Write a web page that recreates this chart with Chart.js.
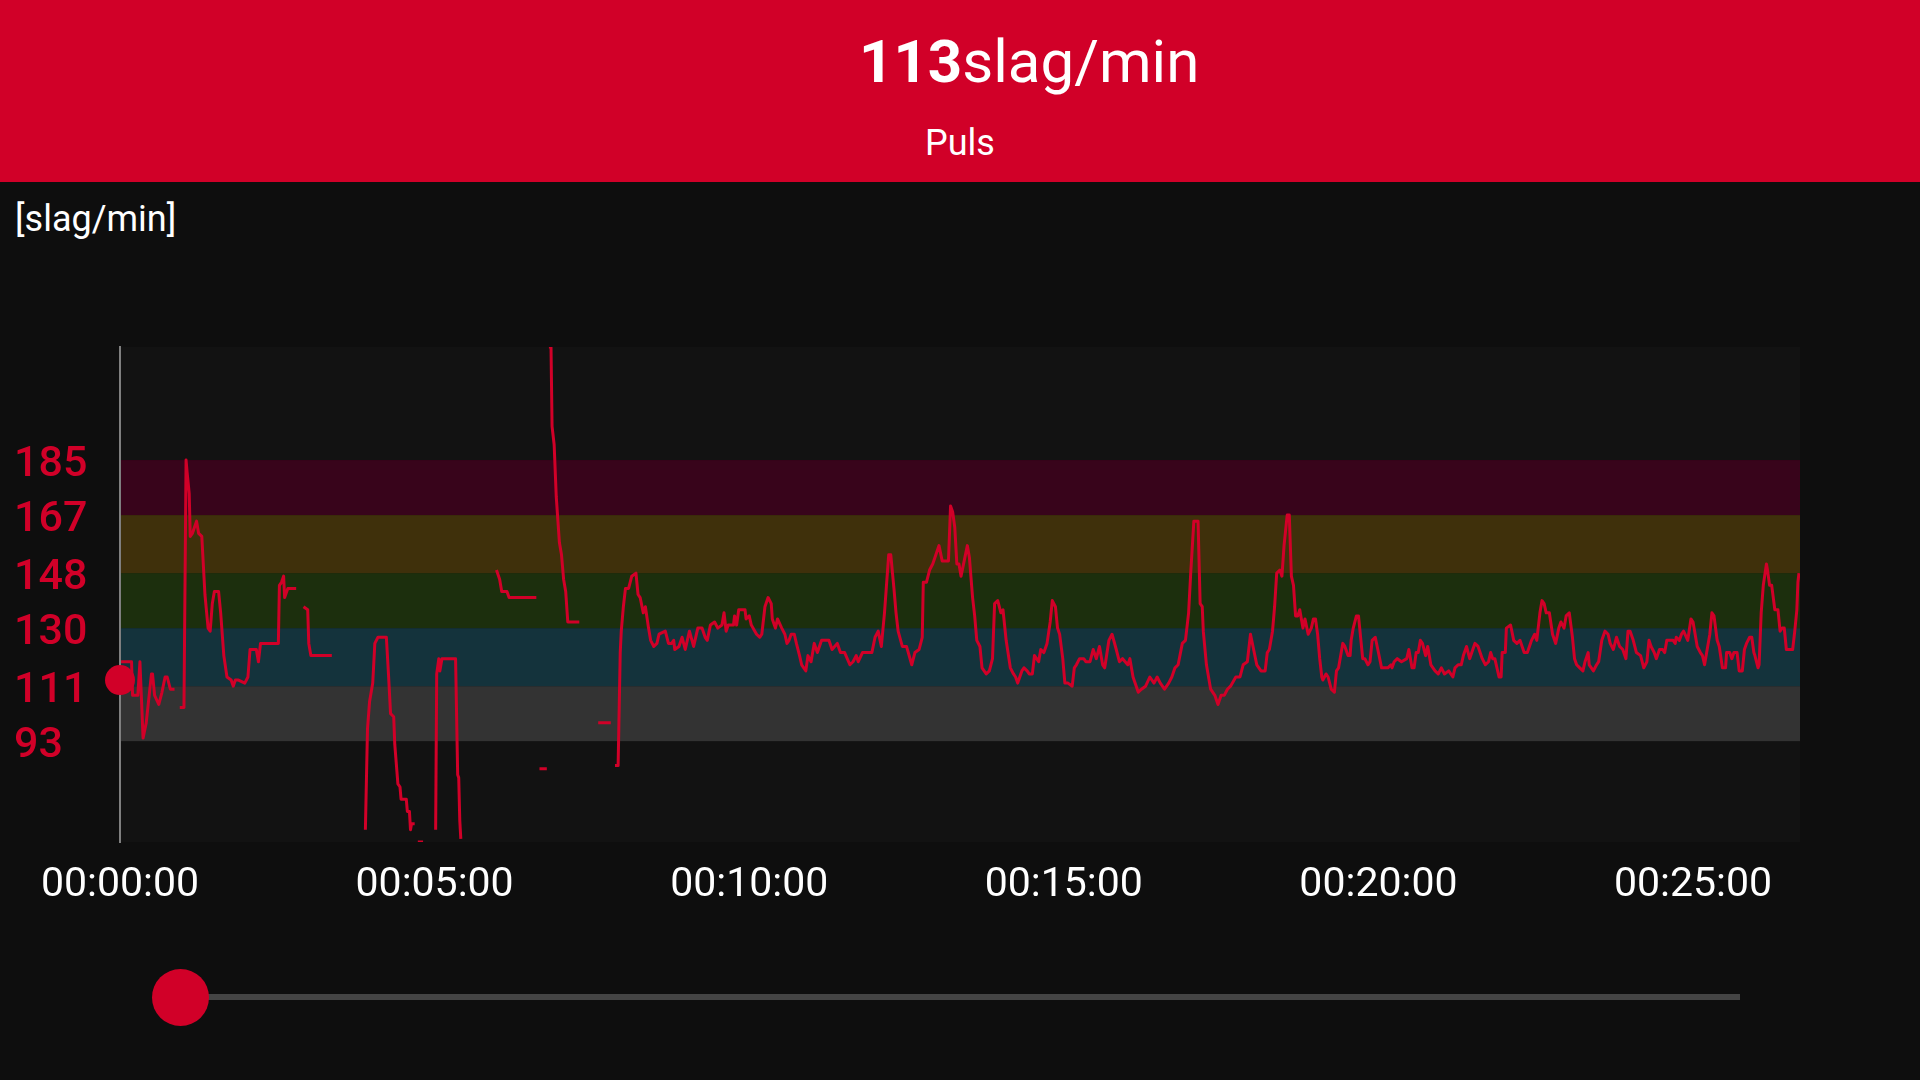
<!DOCTYPE html>
<html>
<head>
<meta charset="utf-8">
<script src="https://cdn.jsdelivr.net/npm/chart.js@4.4.0/dist/chart.umd.min.js"></script>
<style>
  html, body { margin: 0; padding: 0; width: 1920px; height: 1080px; overflow: hidden; background: #0e0e0e; font-family: Roboto, 'Noto Sans', sans-serif; }
  #header { position: absolute; left: 0; top: 0; width: 1920px; height: 182px; background: #d10028; color: #fff; }
  #title { position: absolute; left: 859px; top: 32px; font-size: 60px; line-height: 60px; white-space: nowrap; }
  #title b { font-weight: 700; }
  #sub { position: absolute; left: 0; top: 125px; width: 1920px; text-align: center; font-size: 36px; line-height: 36px; }
  #unit { position: absolute; left: 15px; top: 201px; font-size: 36px; line-height: 36px; font-weight: 400; color: #fff; }
  #wrap { position: absolute; left: 0; top: 340px; width: 1920px; height: 582px; }
  #track { position: absolute; left: 180px; top: 994px; width: 1560px; height: 6px; background: #444; }
  #thumb { position: absolute; left: 152px; top: 969px; width: 57px; height: 57px; border-radius: 50%; background: #d10028; }
</style>
</head>
<body>
<div id="header">
  <div id="title"><b>113</b>slag/min</div>
  <div id="sub">Puls</div>
</div>
<div id="unit">[slag/min]</div>
<div id="wrap"><canvas id="hr"></canvas></div>
<div id="track"></div>
<div id="thumb"></div>
<script>
const RED = '#d10028';

// heart rate zones (bpm) and their band colours, bottom to top
const zoneEdges = [93, 111, 130, 148, 167, 185];
const zoneColors = ['#333333', '#14333c', '#1c2f0d', '#3f300b', '#38041b'];

const xTickSeconds = [0, 300, 600, 900, 1200, 1500];
const xTickLabels = ['00:00:00', '00:05:00', '00:10:00', '00:15:00', '00:20:00', '00:25:00'];

// slider position: [seconds, bpm]
const currentSample = [0, 113];

// [seconds, bpm], null = no signal
const hrSamples = [
  [1,119],[11,119],[12,108],[17,108],[19,119],[22,94],[25,99],[30,115],[31,115],[33,108],[37,105],[40,109],[43,114],[45,114],[48,110],[52,110],
  [55,null],
  [57,104],[61,104],[63,185],[64,181],[66,174],[67,160],[69,161],[73,165],[75,161],[78,160],[81,141],[84,130],[86,129],[88,138],[90,142],[94,142],[96,135],[99,121],[102,114],[106,113],[108,111],[110,113],[113,113],[119,112],[122,114],[124,123],[130,123],[132,119],[134,125],[137,125],[151,125],[152,144],[154,145],[156,147],[157,140],[160,143],[168,143],
  [171,null],
  [175,137],[179,136],[180,125],[182,121],[202,121],
  [218,null],
  [234,64],[236,97],[238,106],[241,112],[243,125],[246,127],[254,127],[256,115],[258,102],[261,101],[262,92],[265,79],[267,78],[268,74],[273,74],[274,70],[276,70],[277,64],[278,66],[281,66],
  [282,null],
  [284,60],[289,60],
  [295,null],
  [301,64],[302,115],[304,120],[305,116],[307,120],[320,120],[322,82],[323,81],[324,67],[325,61],
  [340,null],
  [359,149],[362,146],[364,142],[369,142],[371,140],[397,140],
  [399,null],
  [400,84],[407,84],
  [408,null],
  [409,222],[411,222],[412,196],[414,190],[416,173],[419,158],[421,154],[423,146],[425,142],[427,132],[438,132],
  [447,null],
  [456,99],[468,99],
  [470,null],
  [472,85],[475,85],[477,122],[478,129],[480,137],[482,143],[485,143],[488,147],[492,148],[494,141],[496,140],[499,135],[501,137],[504,130],[506,126],[509,124],[512,125],[514,128],[520,129],[523,125],[526,125],[528,126],[529,123],[533,124],[536,127],[539,123],
  [543,129],[547,124],[551,130],[555,130],[558,127],[560,126],[563,131],[567,132],[570,130],[574,131],[576,135],[578,129],[580,131],[585,131],[586,134],[588,131],[590,136],[596,136],[597,133],[600,134],[602,131],[607,128],[610,127],[612,128],[615,137],[618,140],[621,138],[622,133],[625,130],[627,133],[631,130],[634,128],[636,125],[638,126],[640,128],[643,128],[645,125],[648,121],[650,118],[654,116],[656,121],[659,119],[662,125],[665,122],[669,126],[672,126],[676,126],[679,123],[684,125],[687,122],[691,122],[696,118],[699,119],[702,121],[704,119],[708,122],[712,122],[717,122],[720,127],[723,129],[726,124],[729,135],[733,154],[735,154],[738,143],[740,135],[742,129],[746,124],[750,124],[755,118],[758,122],[762,123],[765,127],[766,145],[769,145],[772,149],[775,151],[778,154],[781,157],[784,152],[790,152],[792,170],[794,168],[796,163],[798,151],[800,151],[802,147],[805,152],[808,157],
  [810,153],[813,140],[815,134],[817,126],[820,124],[822,117],[826,115],[829,116],[832,120],[834,138],[837,139],[840,135],[842,136],[845,126],[849,117],[852,115],[854,114],[856,112],[860,116],[862,117],[865,116],[867,115],[870,115],[872,121],[876,119],[878,123],[881,122],[884,125],[887,132],[889,139],[892,137],[894,130],[896,128],[899,120],[901,112],[904,112],[908,111],[910,117],[912,118],[915,120],[919,120],[921,119],[925,119],[928,123],[931,120],[934,124],[937,118],[939,117],[943,126],[946,128],[950,123],[953,119],[956,120],[961,118],[963,120],[966,114],[971,109],[974,110],[978,111],[982,114],[986,112],[989,114],[992,112],[996,110],[1000,112],[1003,114],[1006,117],[1009,118],[1013,125],[1016,126],[1019,135],[1021,148],[1024,165],[1028,165],[1030,138],[1032,137],[1033,129],[1036,118],[1040,110],[1044,108],[1047,105],[1050,108],[1053,108],[1056,110],[1059,111],[1064,114],[1068,114],[1071,118],[1075,119],[1078,128],
  [1084,118],[1088,116],[1092,116],[1094,122],[1096,123],[1099,129],[1101,137],[1103,148],[1106,149],[1108,147],[1110,157],[1113,167],[1115,167],[1117,147],[1119,144],[1121,134],[1123,134],[1125,136],[1128,130],[1130,133],[1133,128],[1136,130],[1138,133],[1140,133],[1142,128],[1144,120],[1146,114],[1147,113],[1150,115],[1152,114],[1155,110],[1158,109],[1160,116],[1162,117],[1166,125],[1168,124],[1171,121],[1173,121],[1174,126],[1176,130],[1179,134],[1181,134],[1185,120],[1187,120],[1190,118],[1192,119],[1194,126],[1197,127],[1200,122],[1203,117],[1206,117],[1209,117],[1212,118],[1213,117],[1215,119],[1218,120],[1222,119],[1227,120],[1229,123],[1230,121],[1232,117],[1234,117],[1236,122],[1238,122],[1240,126],[1242,125],[1245,121],[1247,124],[1250,118],[1254,116],[1257,115],[1260,117],[1263,115],[1267,116],[1271,114],[1273,117],[1276,118],[1279,118],[1281,121],[1284,124],[1287,120],[1290,123],[1292,125],[1295,124],[1299,120],[1302,118],[1305,119],[1307,122],[1309,120],[1311,120],[1315,114],[1317,114],[1318,122],[1321,122],[1322,130],[1326,131],[1329,126],[1332,125],[1335,126],[1337,124],[1339,122],[1342,122],[1344,124],[1346,126],[1349,128],[1351,126],[1354,135],
  [1356,139],[1358,138],[1360,135],[1363,135],[1366,128],[1369,125],[1372,130],[1374,132],[1377,130],[1379,134],[1382,135],[1385,127],[1387,120],[1389,118],[1392,117],[1395,116],[1397,119],[1400,122],[1401,118],[1405,116],[1408,118],[1410,119],[1413,126],[1416,129],[1419,128],[1421,125],[1424,123],[1427,127],[1430,124],[1433,123],[1436,120],[1438,129],[1440,129],[1443,126],[1446,122],[1450,121],[1453,117],[1456,119],[1458,126],[1460,124],[1463,122],[1465,120],[1468,123],[1471,123],[1473,122],[1475,126],[1478,126],[1481,126],[1483,125],[1484,127],[1487,126],[1489,128],[1491,129],[1495,126],[1498,133],[1500,132],[1504,124],[1507,122],[1509,121],[1511,118],[1513,122],[1516,128],[1518,135],[1520,134],[1523,126],[1525,124],[1528,117],[1531,117],[1532,122],[1535,122],[1537,120],[1539,122],[1542,122],[1544,116],[1547,116],[1549,123],[1551,125],[1554,127],[1556,127],[1558,122],[1559,121],[1562,117],[1563,118],[1565,135],[1567,144],[1570,151],[1571,149],[1573,144],[1575,144],[1578,136],[1581,136],[1583,129],[1585,130],[1587,130],[1589,123],[1591,123],[1595,123],[1597,129],[1599,136],[1600,145],[1601,148]
];

// plot background + zone bands, painted under axes and line
const zoneBands = {
  id: 'zoneBands',
  beforeDraw(chart) {
    const { ctx, chartArea: a, scales: { y } } = chart;
    ctx.save();
    ctx.fillStyle = '#121212';
    ctx.fillRect(a.left, a.top, a.right - a.left, a.bottom - a.top);
    for (let i = 0; i < zoneColors.length; i++) {
      const top = y.getPixelForValue(zoneEdges[i + 1]);
      const bottom = y.getPixelForValue(zoneEdges[i]);
      ctx.fillStyle = zoneColors[i];
      ctx.fillRect(a.left, top, a.right - a.left, bottom - top);
    }
    ctx.restore();
  },
};

const ctx = document.getElementById('hr').getContext('2d');
new Chart(ctx, {
  type: 'line',
  data: {
    datasets: [
      {
        data: [{ x: currentSample[0], y: currentSample[1] }],
        showLine: false,
        pointRadius: 15,
        pointBackgroundColor: RED,
        pointBorderWidth: 0,
        clip: false,
        order: 0,
      },
      {
        data: hrSamples.map(s => ({ x: s[0], y: s[1] })),
        borderColor: RED,
        borderWidth: 3,
        borderJoinStyle: 'round',
        pointRadius: 0,
        tension: 0,
        spanGaps: false,
        order: 1,
      },
    ],
  },
  options: {
    responsive: true,
    maintainAspectRatio: false,
    animation: false,
    layout: { autoPadding: false, padding: { left: 14, right: 120, top: 7, bottom: 0 } },
    plugins: { legend: { display: false }, tooltip: { enabled: false } },
    scales: {
      x: {
        type: 'linear',
        min: 0,
        max: 1602,
        grid: { display: false, drawTicks: false },
        border: { display: false },
        afterBuildTicks: (s) => { s.ticks = xTickSeconds.map(v => ({ value: v })); },
        afterFit: (s) => { s.height = 80; s.paddingLeft = 0; s.paddingRight = 0; },
        ticks: {
          color: '#ffffff',
          font: { family: 'Roboto', size: 41 },
          padding: 19,
          maxRotation: 0,
          autoSkip: false,
          callback: (v) => xTickLabels[xTickSeconds.indexOf(v)],
        },
      },
      y: {
        min: 60,
        max: 222,
        grid: { display: false, drawTicks: false },
        border: { display: true, color: '#7f7f7f', width: 2 },
        afterBuildTicks: (s) => { s.ticks = zoneEdges.map(v => ({ value: v })); },
        afterFit: (s) => { s.width = 106; s.paddingTop = 0; s.paddingBottom = 0; },
        ticks: {
          color: RED,
          font: { family: 'Roboto', size: 43, weight: '500' },
          crossAlign: 'far',
          padding: 0,
          labelOffset: 5,
          callback: (v) => String(v),
        },
      },
    },
  },
  plugins: [zoneBands],
});
</script>
</body>
</html>
